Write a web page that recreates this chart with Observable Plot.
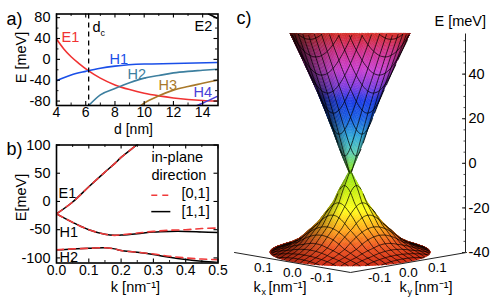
<!DOCTYPE html>
<html>
<head>
<meta charset="utf-8">
<script src="https://cdn.jsdelivr.net/npm/d3@7"></script>
<script src="https://cdn.jsdelivr.net/npm/@observablehq/plot@0.6"></script>
<style>
html,body{margin:0;padding:0;background:#fff}
#page{position:relative;width:498px;height:305px;overflow:hidden;background:#fff}
#page svg{position:absolute;overflow:visible;background:transparent}
</style>
</head>
<body>
<div id="page"></div>
<script>
// ---------- Panel a data ----------
const e1D = [4,4.5,5,5.5,6.2,7,8,9,10,11,12,13,14,15];
const e1E = [39,20,5,-7,-22,-36,-49,-58,-65,-70,-74,-77,-79,-80];
const h1D = [4,5,6,7,8,10,12,15];
const h1E = [-41,-30,-23,-17,-13,-9,-8,-6];
const h2D = [6.15,7,8,9,10,11,12,13,14,15];
const h2E = [-90,-68,-56,-45,-36,-31,-26,-23,-21,-19];
const h3D = [9.7,10,11,12,13,14,15];
const h3E = [-90,-84,-70,-59,-52,-46,-40];
const h4D = [13.5,14,15];
const h4E = [-90,-84,-71];
const e2D = [14.4,15];
const e2E = [87,79];
const dCritical = 6.2;
// ---------- Panel b data ----------
const bK   = [0,0.05,0.1,0.15,0.18,0.2,0.25,0.3,0.35,0.4,0.45,0.5];
const bE1  = [-22,-1,26,52,67,78,101,125,150,175,200,225];
const bH1b = [-22,-37,-50,-58,-60,-59.5,-57,-54,-53,-53,-54,-55];
const bH1r = [-22,-37,-50,-58,-60,-59,-56,-53,-51,-50,-48,-47];
const bH2b = [-85.7,-84,-83,-82,-84,-87,-90,-94,-99,-103,-106,-108];
const bH2r = [-85.7,-84,-83,-82,-84,-87,-90,-93,-97,-100,-102,-103];
// ---------- Panel c data ----------
const upperK = [0,0.02,0.04,0.06,0.08,0.10,0.12,0.146];
const upperE = [-5.5,3.5,13.5,23,32,40,48,58];
const lowerK = [0,0.012,0.027,0.039,0.051,0.08,0.127,0.156,0.183,0.195];
const lowerE = [-2.8,-7,-12,-16.8,-20,-27,-34.7,-37.4,-39.1,-40];
const colorE = [58,50,42,34,28,20,12,4,-3.6,-12,-20,-28,-34,-40];
const colorC = ["#d42a20","#d0308c","#c83ed0","#7a3ce0","#1a3ce8","#1860e0","#30a8d8","#60d0b0","#88e818","#c8f010","#ffff18","#ffa818","#f05820","#d02c14"];
const kxTicks = [0.1,0,-0.1];
const kyTicks = [-0.1,0,0.1];
const eTicks = [-40,-20,0,20,40];
const eMinor = d3.range(-35,58,5);
const meshLines = d3.range(-0.2,0.2001,0.02);

const FONT = "Liberation Sans, Arial, sans-serif";
const fmtInt = d => String(d);
const page = document.getElementById("page");

function place(svg,left,top){svg.style.left=left+"px";svg.style.top=top+"px";page.appendChild(svg);}
const series = (xs,ys) => xs.map((x,i)=>({x,y:ys[i]}));
const pin = (ml,mt) => (s,px,py,o={}) => Plot.text([s],{frameAnchor:"top-left",dx:px-ml,dy:py-mt,text:d=>d,fill:"black",fontSize:14.5,textAnchor:"start",lineAnchor:"middle",...o});
// inward ticks on all four sides; labels only left and bottom
function frameTicks(W,H,xMajor,xMinor,yMajor,yMinor,xFmt,yFmt){
  const s={stroke:"black",strokeWidth:1.1}, m={stroke:"black",strokeWidth:0.9};
  return [
    Plot.axisX(xMajor,{anchor:"bottom",tickSize:0,tickPadding:2,fontSize:14,tickFormat:xFmt,label:null}),
    Plot.axisY(yMajor,{anchor:"left",tickSize:0,tickPadding:6,fontSize:14.5,tickFormat:yFmt,label:null}),
    Plot.ruleX(xMajor,{...s,insetTop:H-4}),Plot.ruleX(xMajor,{...s,insetBottom:H-4}),
    Plot.ruleX(xMinor,{...m,insetTop:H-2.5}),Plot.ruleX(xMinor,{...m,insetBottom:H-2.5}),
    Plot.ruleY(yMajor,{...s,insetRight:W-4}),Plot.ruleY(yMajor,{...s,insetLeft:W-4}),
    Plot.ruleY(yMinor,{...m,insetRight:W-2.5}),Plot.ruleY(yMinor,{...m,insetLeft:W-2.5})
  ];
}

// ---------- Panel a ----------
{
  const ml=56,mt=13.5,t=pin(ml,mt);
  const curves=[["#f03232",e1D,e1E],["#1a4fe8",h1D,h1E],["#3d7f9f",h2D,h2E],["#a9792a",h3D,h3E],["#4a3fd8",h4D,h4E],["#000",e2D,e2E]];
  const svg=Plot.plot({
    width:232,height:137,marginLeft:ml,marginRight:14.5,marginTop:mt,marginBottom:32,
    style:{fontFamily:FONT,fontSize:"14px",color:"black"},
    x:{domain:[4,15.05]},y:{domain:[-88.5,87]},
    marks:[
      ...curves.map(([c,xs,ys])=>Plot.line(series(xs,ys),{x:"x",y:"y",stroke:c,strokeWidth:1.6,curve:"monotone-x",clip:true})),
      Plot.ruleX([dCritical],{stroke:"black",strokeWidth:1.3,strokeDasharray:"5,4"}),
      ...frameTicks(161.5,91.5,d3.range(4,15,2),d3.range(5,15,2),[-80,-40,0,40,80],[-60,-20,20,60],fmtInt,fmtInt),
      Plot.frame({stroke:"black",strokeWidth:1.6}),
      t("a)",6,19,{fontSize:18}),
      t("E [meV]",21,57,{rotate:-90,textAnchor:"middle"}),
      t("d [nm]",133,129,{textAnchor:"middle",fontSize:14}),
      t("E1",61,37,{fill:"#f03232"}),
      t("H1",109,59,{fill:"#1a4fe8"}),
      t("H2",127,74,{fill:"#3d7f9f"}),
      t("H3",158,85,{fill:"#a9792a"}),
      t("H4",193,92,{fill:"#4a3fd8"}),
      t("E2",194,26),
      t("d",92,27),
      t("c",100,33,{fontSize:9})
    ]
  });
  place(svg,0,0);
}

// ---------- Panel b ----------
{
  const ml=56,mt=9.5,top=135,t=pin(ml,mt);
  const svg=Plot.plot({
    width:232,height:170,marginLeft:ml,marginRight:14.5,marginTop:mt,marginBottom:42.5,
    style:{fontFamily:FONT,fontSize:"14px",color:"black"},
    x:{domain:[0,0.5]},y:{domain:[-109,100]},
    marks:[
      ...[bE1,bH1b,bH2b].map(v=>Plot.line(series(bK,v),{x:"x",y:"y",stroke:"black",strokeWidth:1.5,curve:"catmull-rom",clip:true})),
      ...[bE1,bH1r,bH2r].map(v=>Plot.line(series(bK,v),{x:"x",y:"y",stroke:"#f03a3a",strokeWidth:1.6,strokeDasharray:"7,5",curve:"catmull-rom",clip:true})),
      Plot.ruleY([11],{x1:0.295,x2:0.354,stroke:"#f03a3a",strokeWidth:1.6,strokeDasharray:"6,5"}),
      Plot.ruleY([-18],{x1:0.295,x2:0.354,stroke:"black",strokeWidth:1.5}),
      ...frameTicks(161.5,118,[0,0.1,0.2,0.3,0.4,0.5],[0.05,0.15,0.25,0.35,0.45],[-100,-50,0,50,100],[],d=>d.toFixed(1),fmtInt),
      Plot.frame({stroke:"black",strokeWidth:1.6}),
      t("b)",6,149-top,{fontSize:18}),
      t("E[meV]",21,197-top,{rotate:-90,textAnchor:"middle"}),
      t("k [nm⁻¹]",135,287-top,{textAnchor:"middle"}),
      t("E1",58,193-top),
      t("H1",59,232-top),
      t("H2",59,257-top),
      t("in-plane",151,157-top),
      t("direction",151,175-top),
      t("[0,1]",181,193-top),
      t("[1,1]",181,211-top)
    ]
  });
  place(svg,0,top);
}

// ---------- Panel c ----------
{
  const left=225,ml=10,mr=33,mt=33.5,mb=53,R=0.2,SLOPE=22.4,ETOP=58,EBASE=-40;
  const t=pin(ml,mt);
  const f=E=>(ETOP-E)/(ETOP-EBASE);
  const X=(kx,ky)=>ky-kx;
  const Y=(kx,ky,E)=>E+f(E)*(kx+ky)*SLOPE;
  const color=d3.scaleLinear().domain(colorE).range(colorC).clamp(true);
  const upE=d3.scaleLinear().domain(upperK).range(upperE).clamp(true);
  const loE=d3.scaleLinear().domain(lowerK).range(lowerE).clamp(true);
  const loR=d3.scaleLinear().domain(lowerE.slice().reverse()).range(lowerK.slice().reverse()).clamp(true);
  const rimUp=upperK[upperK.length-1], rimLo=lowerK[lowerK.length-1], STEP=0.004;
  const shadeC=(kx,ky,base,gain)=>{
    const r=Math.hypot(kx,ky)||1e-6;
    const u=-(kx+ky)/(Math.SQRT2*r), v=(ky-kx)/(Math.SQRT2*r);
    const c=u*Math.cos(0.35)+v*Math.sin(0.35);
    return Math.min(1,base+gain*Math.max(0,c));
  };
  const clampR=(kx,ky,rim)=>{const r=Math.hypot(kx,ky);return r>rim?[kx*rim/r,ky*rim/r]:[kx,ky];};
  const proj=(kx,ky,rim,fn)=>{const [a,b]=clampR(kx,ky,rim);const E=fn(Math.hypot(a,b));return [X(a,b),Y(a,b,E)];};
  const cells=[];
  for(let kx=-rimLo-STEP;kx<rimLo+STEP;kx+=STEP)for(let ky=-rimLo-STEP;ky<rimLo+STEP;ky+=STEP){
    const mx=kx+STEP/2,my=ky+STEP/2,r=Math.hypot(mx,my);
    if(r<rimLo+STEP) cells.push({kx,ky,mx,my,r});
  }
  const rows=[];let id=0;
  const addCell=(kx,ky,rim,fn,col)=>{
    const a=proj(kx,ky,rim,fn),b=proj(kx+STEP,ky,rim,fn),c=proj(kx+STEP,ky+STEP,rim,fn),d=proj(kx,ky+STEP,rim,fn);
    rows.push({x1:a[0],y1:a[1],x2:d[0],y2:d[1],z:id,c:col});
    rows.push({x1:b[0],y1:b[1],x2:c[0],y2:c[1],z:id,c:col});
    id++;
  };
  const area2=(kx,ky,fn,rim)=>{
    const p=[proj(kx,ky,rim,fn),proj(kx+STEP,ky,rim,fn),proj(kx+STEP,ky+STEP,rim,fn),proj(kx,ky+STEP,rim,fn)];
    let s=0;for(let i=0;i<4;i++){const q=p[(i+1)%4];s+=p[i][0]*q[1]-q[0]*p[i][1];}
    return s;
  };
  cells.slice().sort((p,q)=>(q.mx+q.my)-(p.mx+p.my)).forEach(cl=>{
    if(area2(cl.kx,cl.ky,loE,rimLo)>=0) return;
    const E=loE(Math.min(cl.r,rimLo));
    const s=shadeC(cl.mx,cl.my,0.66,0.45);
    addCell(cl.kx,cl.ky,rimLo,loE,d3.interpolateRgb("#000",color(E))(s));
  });
  cells.filter(cl=>cl.r<rimUp+STEP&&cl.mx+cl.my<=STEP).forEach(cl=>{
    const E=upE(Math.min(cl.r,rimUp));
    const s=shadeC(cl.mx,cl.my,0.35,0.75);
    addCell(cl.kx,cl.ky,rimUp,upE,d3.interpolateRgb("#000",color(E))(s));
  });
  const mesh=[];let lid=0;
  const visLower=(kx,ky)=>{
    if(Math.hypot(kx,ky)>rimLo) return false;
    if(area2(kx,ky,loE,rimLo)>=0) return false;
    if(kx+ky>0){
      const E=loE(Math.hypot(kx,ky)),y=Y(kx,ky,E);
      const half=y>-4?0:loR(y)*Math.SQRT2;
      if(Math.abs(X(kx,ky))<half) return false;
    }
    return true;
  };
  const visUpper=(kx,ky)=>Math.hypot(kx,ky)<=rimUp&&kx+ky<=0;
  for(const fam of [0,1])for(const k0 of meshLines){
    for(let s=-0.2;s<=0.2001;s+=STEP){
      const kx=fam?k0:s,ky=fam?s:k0;
      const vis=visLower(kx,ky),E=loE(Math.hypot(kx,ky));
      mesh.push({x:X(kx,ky),y:vis?Y(kx,ky,E):NaN,z:lid});
    }
    lid++;
    for(let s=-0.2;s<=0.2001;s+=STEP){
      const kx=fam?k0:s,ky=fam?s:k0;
      const vis=visUpper(kx,ky),E=upE(Math.hypot(kx,ky));
      mesh.push({x:X(kx,ky),y:vis?Y(kx,ky,E):NaN,z:lid});
    }
    lid++;
  }
  const base=(kx,ky)=>({x:X(kx,ky),y:EBASE+(kx+ky)*SLOPE});
  const xTicksData=kxTicks.map(k=>({...base(k,-R),s:k.toFixed(1)}));
  const yTicksData=kyTicks.map(k=>({...base(-R,k),s:k.toFixed(1)}));
  const s={stroke:"#222",strokeWidth:1};
  const svg=Plot.plot({
    width:273,height:305,marginLeft:ml,marginRight:mr,marginTop:mt,marginBottom:mb,
    style:{fontFamily:FONT,fontSize:"13px",color:"black"},
    x:{domain:[-115/290,115/290],axis:null},
    y:{domain:[EBASE,ETOP],axis:null},
    color:{type:"identity"},
    marks:[
      Plot.area(rows,{x1:"x1",y1:"y1",x2:"x2",y2:"y2",z:"z",fill:"c",stroke:"c",strokeWidth:0.4,curve:"linear"}),
      Plot.line(mesh,{x:"x",y:"y",z:"z",stroke:"#000",strokeWidth:0.85,strokeOpacity:0.85,curve:"linear"}),
      Plot.line([base(R,-R),base(-R,-R),base(-R,R)],{x:"x",y:"y",...s}),
      Plot.ruleX([115/290],{y1:EBASE,y2:ETOP,...s}),
      Plot.ruleY(eTicks,{...s,insetLeft:230-3}),
      Plot.ruleY(eMinor,{stroke:"#222",strokeWidth:0.8,insetLeft:230-1.5}),
      Plot.axisY(eTicks,{anchor:"right",tickSize:0,tickPadding:3,fontSize:14.5,tickFormat:fmtInt,label:null}),
      Plot.text(xTicksData,{x:"x",y:"y",text:"s",dy:10,fontSize:13.5,fill:"black"}),
      Plot.text(yTicksData,{x:"x",y:"y",text:"s",dy:10,fontSize:13.5,fill:"black"}),
      t("c)",236-left,18,{fontSize:18}),
      t("E [meV]",434-left,21),
      t("k",253-left,287),
      t("x",261-left,292,{fontSize:9}),
      t("[nm⁻¹]",268-left,287),
      t("k",399-left,287),
      t("y",407-left,292,{fontSize:9}),
      t("[nm⁻¹]",414-left,287)
    ]
  });
  place(svg,left,0);
}
</script>
</body>
</html>
